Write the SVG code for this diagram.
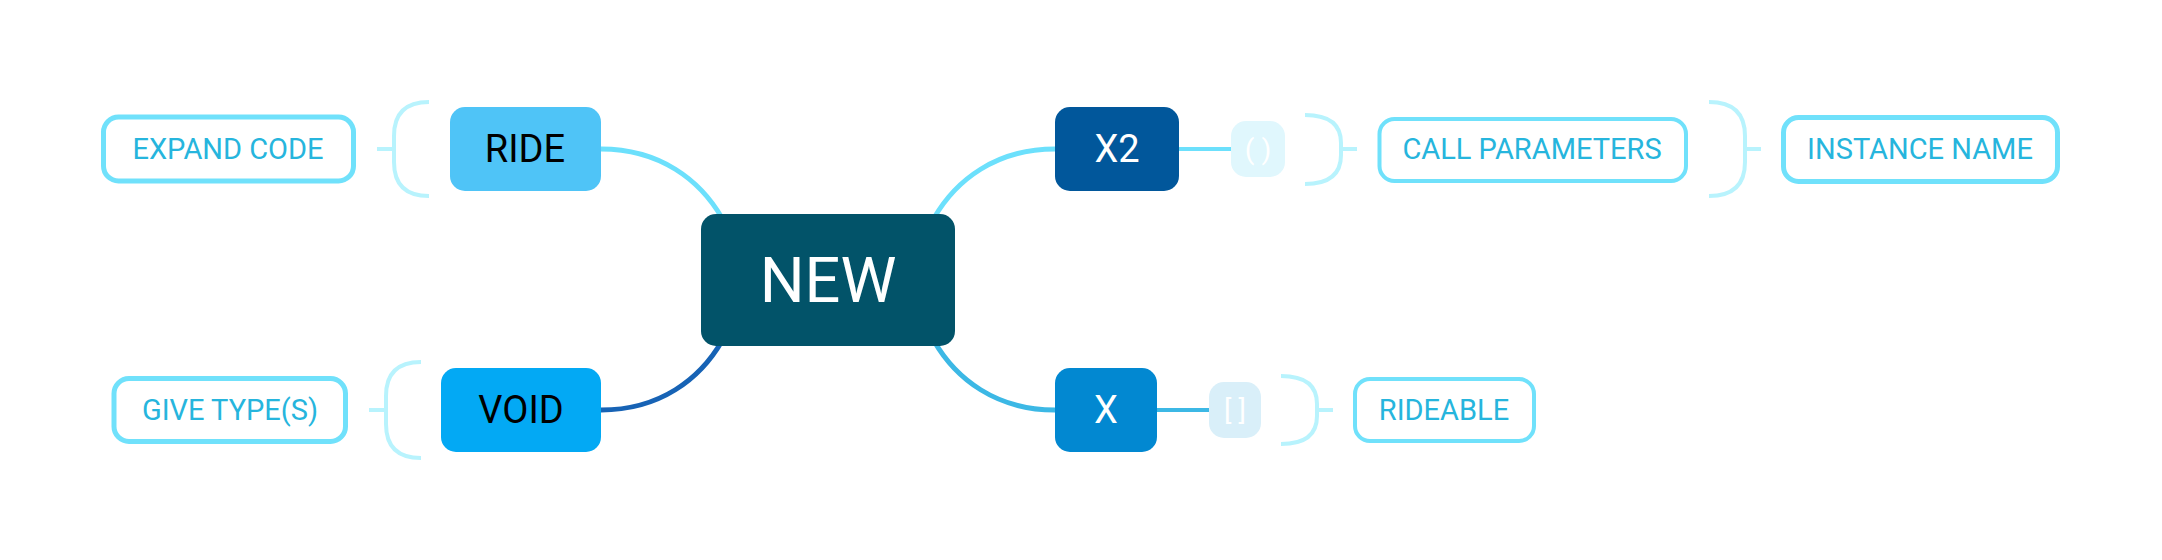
<svg xmlns="http://www.w3.org/2000/svg" width="2162" height="560" viewBox="0 0 2162 560">
<style>
text{font-family:Roboto,"Liberation Sans",sans-serif;text-anchor:middle}
.node text{font-size:38px;fill:#000}
.lbl rect{fill:#fff;stroke:#70e1fb;stroke-width:5}
.lbl text{font-size:29px;fill:#26b5dd}
.br{fill:none;stroke:#b8f3fd;stroke-width:4}
.conn path{fill:none;stroke-width:5}
.sm text{font-size:28px;fill:#fff}
</style>
<rect width="2162" height="560" fill="#fff"/>
<g class="conn">
<path d="M601,149 C660,149 700,180 722,218" stroke="#6ce0fc"/>
<path d="M601,410 C660,410 700,379 722,341" stroke="#1763b5"/>
<path d="M934,218 C956,180 996,149 1055,149" stroke="#6ce0fc"/>
<path d="M934,341 C956,379 996,410 1055,410" stroke="#3cb8e5"/>
<path d="M1179,149 L1232,149" stroke="#6ce0fc" style="stroke-width:4"/>
<path d="M1157,410 L1210,410" stroke="#3cb8e5" style="stroke-width:4"/>
</g>
<g id="brackets">
<path class="br" d="M377,149 L394,149 M429,102 Q394,102 394,136 L394,162 Q394,196 429,196"/>
<path class="br" d="M369,410 L386,410 M421,362 Q386,362 386,396 L386,424 Q386,458 421,458"/>
<path class="br" d="M1357,149 L1341,149 M1305,115 Q1341,115 1341,143 L1341,155 Q1341,184 1305,184"/>
<path class="br" d="M1761,149 L1745,149 M1709,102 Q1745,102 1745,136 L1745,162 Q1745,196 1709,196"/>
<path class="br" d="M1333,410 L1317,410 M1281,376 Q1317,376 1317,404 L1317,416 Q1317,444 1281,444"/>
</g>
<g id="new" class="node"><rect x="701" y="214" width="254" height="132" rx="15" fill="#025369"/><text x="828" y="302" style="font-size:63px;fill:#fff">NEW</text></g>
<g id="ride" class="node"><rect x="450" y="107" width="151" height="84" rx="15" fill="#4fc4f7"/><text x="525" y="162">RIDE</text></g>
<g id="void" class="node"><rect x="441" y="368" width="160" height="84" rx="15" fill="#03a9f4"/><text x="521" y="423">VOID</text></g>
<g id="x2" class="node"><rect x="1055" y="107" width="124" height="84" rx="15" fill="#01579b"/><text x="1117" y="162" style="fill:#fff">X2</text></g>
<g id="x" class="node"><rect x="1055" y="368" width="102" height="84" rx="15" fill="#0288d1"/><text x="1106" y="423" style="fill:#fff">X</text></g>
<g id="paren" class="sm"><rect x="1231" y="121" width="54" height="56" rx="15" fill="#e0f7fd"/><text x="1258" y="159">( )</text></g>
<g id="brack" class="sm"><rect x="1209" y="382" width="52" height="56" rx="15" fill="#d9eff9"/><text x="1235" y="420">[ ]</text></g>
<g id="expand" class="lbl"><rect x="103.5" y="117" width="250" height="64" rx="15"/><text x="228" y="159">EXPAND CODE</text></g>
<g id="give" class="lbl"><rect x="114" y="378.5" width="231.5" height="63" rx="15"/><text x="230" y="420">GIVE TYPE(S)</text></g>
<g id="call" class="lbl"><rect x="1379.5" y="119" width="306.5" height="62" rx="15" style="stroke-width:4"/><text x="1532" y="159">CALL PARAMETERS</text></g>
<g id="inst" class="lbl"><rect x="1783.5" y="117.5" width="274" height="64" rx="15"/><text x="1920" y="159">INSTANCE NAME</text></g>
<g id="rideable" class="lbl"><rect x="1355" y="379" width="179" height="62" rx="15" style="stroke-width:4"/><text x="1444" y="420">RIDEABLE</text></g>
</svg>
